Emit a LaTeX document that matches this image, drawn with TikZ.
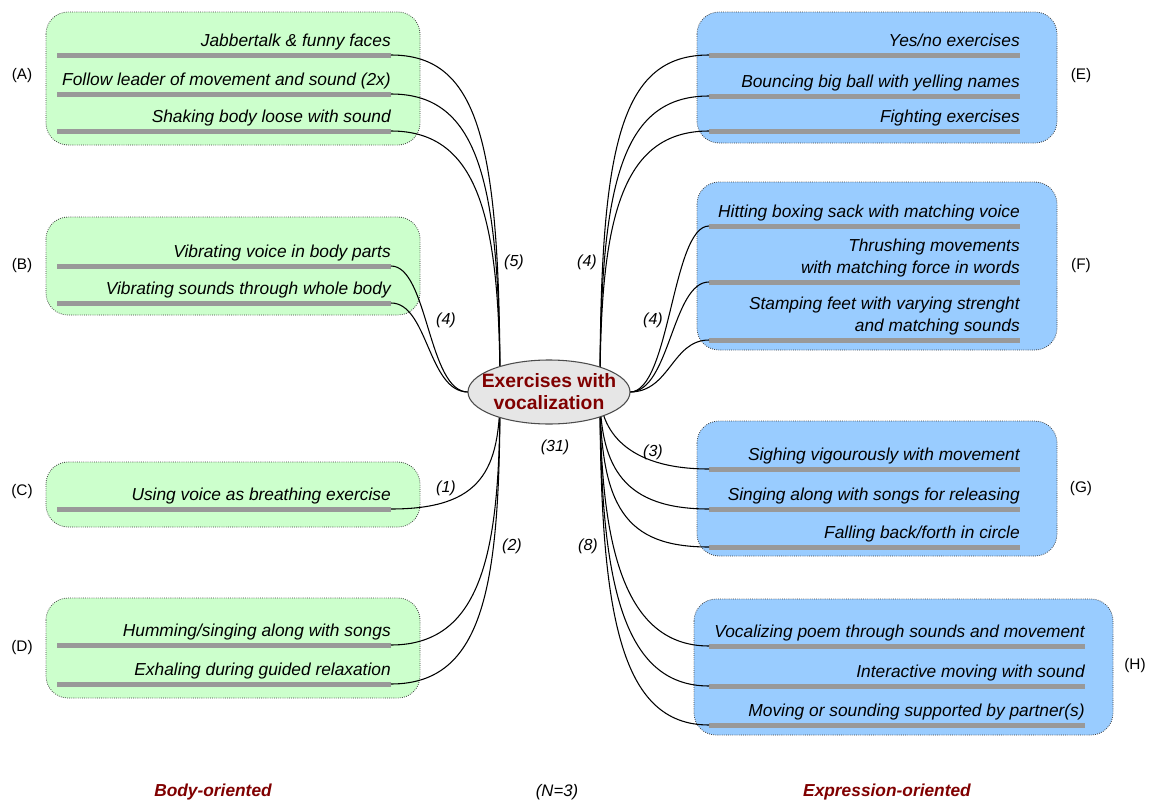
\documentclass[tikz,border=0pt]{standalone}
\usepackage{fontspec}
\setmainfont{Liberation Sans}
\definecolor{bodyfill}{HTML}{CCFFCC}
\definecolor{exprfill}{HTML}{99CCFF}
\definecolor{barcol}{HTML}{999999}
\definecolor{titlered}{HTML}{800000}
\definecolor{hubfill}{HTML}{E6E6E6}
\begin{document}
\begin{tikzpicture}[x=0.75pt,y=-0.75pt,
  group/.style={draw=black!75, densely dotted, line width=0.6pt, rounded corners=16.5pt},
  bodybox/.style={group, fill=bodyfill},
  exprbox/.style={group, fill=exprfill},
  bar/.style={draw=barcol, line width=3.75pt},
  item/.style={font=\fontsize{13}{15}\selectfont\itshape, inner sep=0pt, anchor=base east},
  link/.style={draw=black, line width=0.8pt},
  count/.style={font=\fontsize{12}{14}\selectfont\itshape, inner sep=0pt},
  tag/.style={font=\fontsize{11.5}{13}\selectfont, inner sep=0pt},
  side/.style={font=\fontsize{13}{15}\selectfont\bfseries\itshape, text=titlered, inner sep=0pt},
  hubshape/.style={draw=black!70, line width=0.8pt, fill=hubfill},
  hubtext/.style={inner sep=0pt, align=center,
    font=\fontsize{14.5}{16.5}\selectfont\bfseries, text=titlered}]

\useasboundingbox[fill=white] (0,0) rectangle (1154,803);

% group boxes
\path[bodybox] (46,12) rectangle (420,145);
\path[bodybox] (46,217) rectangle (420,315);
\path[bodybox] (46,462) rectangle (420,527);
\path[bodybox] (46,598) rectangle (420,698);
\path[exprbox] (697,12) rectangle (1057,143);
\path[exprbox] (697,182) rectangle (1057,350);
\path[exprbox] (697,421) rectangle (1057,556);
\path[exprbox] (694,599) rectangle (1113,735);

% bar end points (outer ends where the links attach)
\coordinate (A1) at (391,55);  \coordinate (A2) at (391,94);  \coordinate (A3) at (391,131);
\coordinate (B1) at (391,266); \coordinate (B2) at (391,303);
\coordinate (C1) at (391,509);
\coordinate (D1) at (391,645); \coordinate (D2) at (391,684);
\coordinate (E1) at (709,55);  \coordinate (E2) at (709,96);  \coordinate (E3) at (709,131);
\coordinate (F1) at (709,226); \coordinate (F2) at (709,282); \coordinate (F3) at (709,340);
\coordinate (G1) at (709,469); \coordinate (G2) at (709,509); \coordinate (G3) at (709,547);
\coordinate (H1) at (709,646); \coordinate (H2) at (709,686); \coordinate (H3) at (709,725);

% bars
\foreach \p in {A1,A2,A3,B1,B2,C1,D1,D2}
  \draw[bar] (\p) -- ++(-334,0);
\foreach \p in {E1,E2,E3,F1,F2,F3,G1,G2,G3}
  \draw[bar] (\p) -- ++(311,0);
\foreach \p in {H1,H2,H3}
  \draw[bar] (\p) -- ++(376,0);

% item texts
\node[item] (tA1) at (391,46)  {Jabbertalk \& funny faces};
\node[item] (tA2) at (391,85)  {Follow leader of movement and sound (2x)};
\node[item] (tA3) at (391,122) {Shaking body loose with sound};
\node[item] (tB1) at (391,257) {Vibrating voice in body parts};
\node[item] (tB2) at (391,294) {Vibrating sounds through whole body};
\node[item] (tC1) at (391,500) {Using voice as breathing exercise};
\node[item] (tD1) at (391,636) {Humming/singing along with songs};
\node[item] (tD2) at (391,675) {Exhaling during guided relaxation};
\node[item] (tE1) at (1020,46)  {Yes/no exercises};
\node[item] (tE2) at (1020,87)  {Bouncing big ball with yelling names};
\node[item] (tE3) at (1020,122) {Fighting exercises};
\node[item] (tF1) at (1020,217) {Hitting boxing sack with matching voice};
\node[item] (tF2a) at (1020,251) {Thrushing movements};
\node[item] (tF2b) at (1020,273) {with matching force in words};
\node[item] (tF3a) at (1020,309) {Stamping feet with varying strenght};
\node[item] (tF3b) at (1020,331) {and matching sounds};
\node[item] (tG1) at (1020,460) {Sighing vigourously with movement};
\node[item] (tG2) at (1020,500) {Singing along with songs for releasing};
\node[item] (tG3) at (1020,538) {Falling back/forth in circle};
\node[item] (tH1) at (1085,637) {Vocalizing poem through sounds and movement};
\node[item] (tH2) at (1085,677) {Interactive moving with sound};
\node[item] (tH3) at (1085,716) {Moving or sounding supported by partner(s)};

% central topic: attachment points on its outline and on the two trunks
\coordinate (hc) at (549,392);
\coordinate (hw) at (468,392);
\coordinate (he) at (630,392);
\coordinate (lt) at (500,392);
\coordinate (rt) at (600,392);

% links from the bars to the central topic
\foreach \p/\ya in {A1/55,A2/94,A3/131}
  \draw[link] (\p) .. controls (480,\ya) and (500,\ya+90) .. (lt);
\foreach \p/\ya in {B1/266,B2/303}
  \draw[link] (\p) .. controls (428,\ya) and (428,392) .. (hw);
\draw[link] (C1) .. controls (482,509) and (500,470) .. (lt);
\foreach \p/\ya in {D1/645,D2/684}
  \draw[link] (\p) .. controls (485,\ya) and (500,\ya-100) .. (lt);
\foreach \p/\ya in {E1/55,E2/96,E3/131}
  \draw[link] (\p) .. controls (620,\ya) and (600,\ya+90) .. (rt);
\foreach \p/\ya in {F1/226,F2/282,F3/340}
  \draw[link] (\p) .. controls (672,\ya) and (670,392) .. (he);
\foreach \p/\ya in {G1/469,G2/509,G3/547}
  \draw[link] (\p) .. controls (625,\ya) and (600,\ya-40) .. (rt);
\foreach \p/\ya in {H1/646,H2/686,H3/725}
  \draw[link] (\p) .. controls (620,\ya) and (600,\ya-110) .. (rt);

% central topic, drawn over the link ends
\path[hubshape] (hc) ellipse [x radius=60.75pt, y radius=24pt];
\node[hubtext] (hub) at (hc) {Exercises with\\vocalization};

% link counts
\node[count] (n5) at (514,262) {(5)};
\node[count] (n4a) at (587,262) {(4)};
\node[count] (n4b) at (446,320) {(4)};
\node[count] (n4c) at (653,320) {(4)};
\node[count] (n31) at (555,447) {(31)};
\node[count] (n3) at (653,452) {(3)};
\node[count] (n1) at (446,488) {(1)};
\node[count] (n2) at (512,546) {(2)};
\node[count] (n8) at (588,546) {(8)};

% group tags
\node[tag] (gA) at (22,76)  {(A)};
\node[tag] (gB) at (22,266) {(B)};
\node[tag] (gC) at (22,492) {(C)};
\node[tag] (gD) at (22,648) {(D)};
\node[tag] (gE) at (1081,76)  {(E)};
\node[tag] (gF) at (1081,266) {(F)};
\node[tag] (gG) at (1081,489) {(G)};
\node[tag] (gH) at (1135,666) {(H)};

% footer
\node[side] (body) at (213,792) {Body-oriented};
\node[count, font=\fontsize{12.5}{14}\selectfont\itshape] (nn) at (557,792) {(N=3)};
\node[side] (expr) at (887,792) {Expression-oriented};
\end{tikzpicture}
\end{document}
